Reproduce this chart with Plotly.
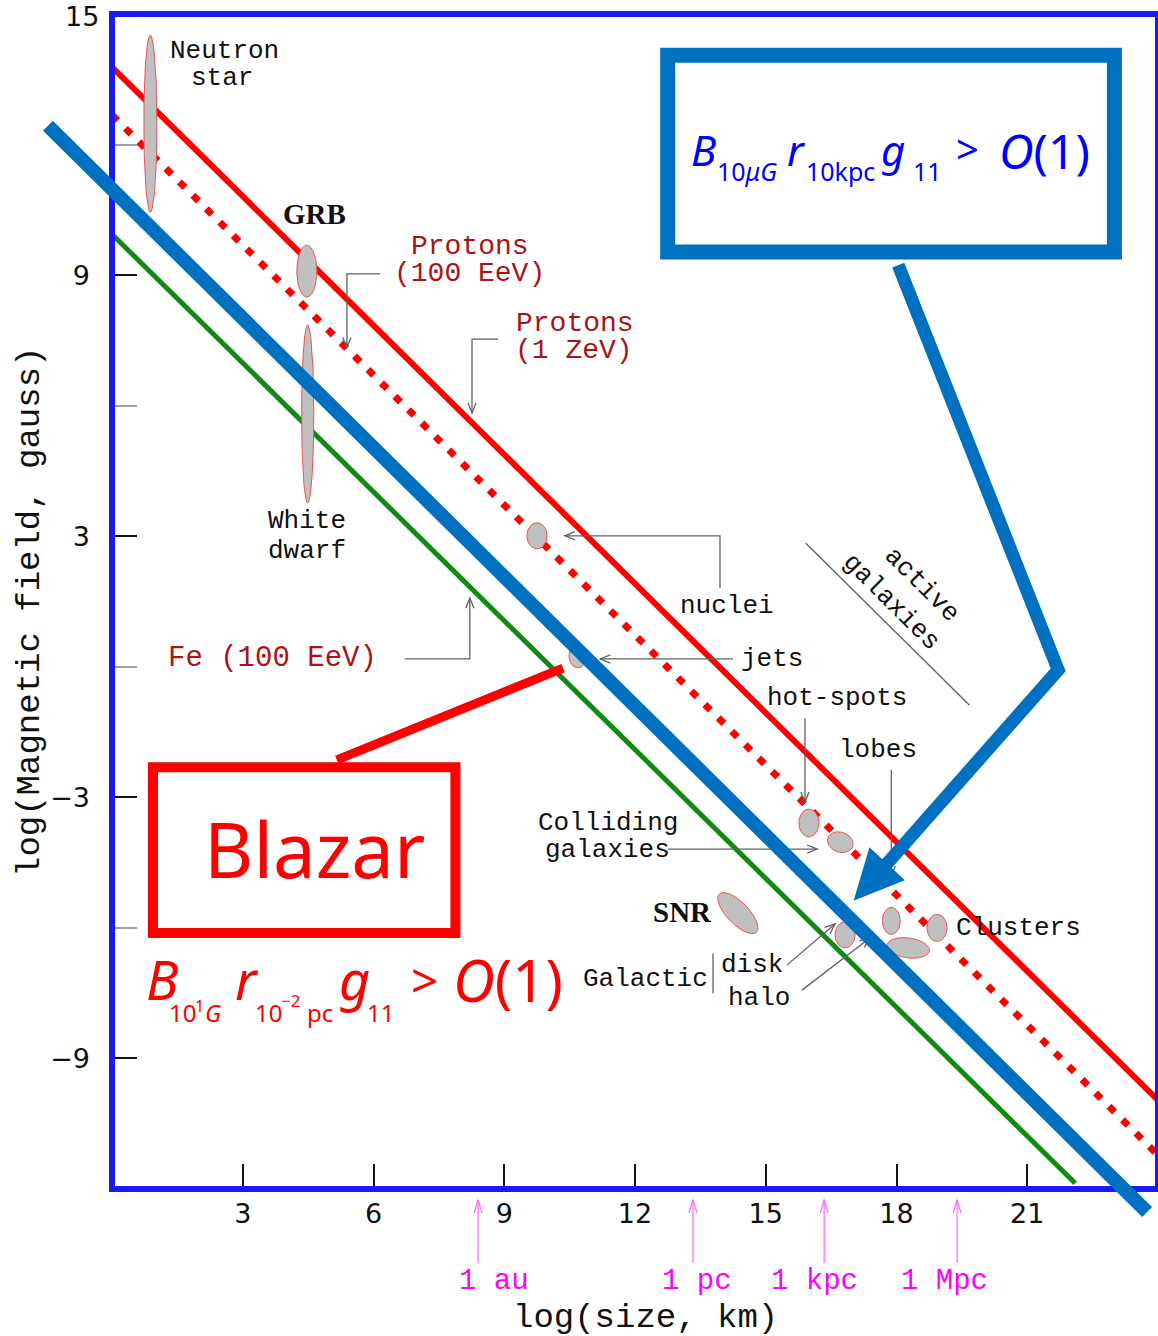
import numpy as np
import plotly.graph_objects as go

# ---------------- figure geometry ----------------
W, H = 1158, 1336
ML, MR, MT, MB = 112, 0, 14, 147
X_RANGE = [0, 24]
Y_RANGE = [-12, 15]
PW = W - ML - MR
PH = H - MT - MB

# ---------------- data ----------------
# Hillas limit lines: log(size, km) vs log(B, gauss)
line_x = [0, 24]
protons_1zev_y = [13.78, -9.96]       # solid red
protons_100eev_y = [12.68, -11.22]    # dotted red
fe_100eev_x = [0, 22.1]
fe_100eev_y = [9.94, -11.87]          # green

# source regions (ellipses): centre, full width, full height (data units), tilt (deg)
src_names = ["Neutron star", "GRB", "White dwarf", "AGN nuclei", "AGN jets",
             "hot-spots", "lobes", "SNR", "Galactic disk", "Cluster A",
             "Cluster B", "Galactic halo"]
src_x = [0.88, 4.47, 4.49, 9.75, 10.69, 15.99, 16.71, 14.36, 16.82, 17.88, 18.93, 18.27]
src_y = [12.48, 9.09, 5.81, 3.01, 0.25, -3.59, -4.03, -5.66, -6.16, -5.84, -6.00, -6.46]
src_w = [0.30, 0.46, 0.28, 0.46, 0.41, 0.46, 0.60, 1.22, 0.46, 0.41, 0.46, 0.98]
src_h = [4.07, 1.19, 4.09, 0.60, 0.55, 0.64, 0.46, 0.50, 0.60, 0.62, 0.62, 0.46]
src_tilt = [0, 0, 0, 0, 0, 0, -20, -46, 0, 0, 0, -8]

# leader lines (data units) and whether they end with an arrow head
leader_x = [[6.15, 5.39, 5.39], [8.86, 8.26, 8.26], [6.72, 8.21, 8.21],
            [13.95, 13.95, 10.39], [14.25, 11.20], [15.90, 15.90], [17.88, 17.88],
            [12.76, 16.18], [15.49, 16.59], [15.83, 17.39], [13.79, 13.79], [15.92, 19.67]]
leader_y = [[9.03, 9.03, 7.33], [7.53, 7.53, 5.83], [0.18, 0.18, 1.58],
            [1.81, 3.01, 3.01], [0.18, 0.18], [-1.18, -3.11], [-2.37, -4.81],
            [-4.19, -4.19], [-6.85, -5.91], [-7.43, -6.23], [-6.58, -7.50], [2.84, -0.88]]
leader_arrow = [True, True, True, True, True, True, True, True, True, True, False, False]

# reference length scales on the size axis
unit_names = ["1 au", "1 pc", "1 kpc", "1 Mpc"]
unit_logkm = [8.40, 13.33, 16.34, 19.39]
unit_label_x = [7.92, 12.57, 15.08, 18.06]

# axis ticks
x_ticks = [3, 6, 9, 12, 15, 18, 21]
y_ticks = [9, 3, -3, -9]
y_ticktext = ["9", "3", "−3", "−9"]
y_top_label = "15"
y_minor = [12, 6, 0, -6]

# overlay annotations (data units)
blue_band_x = [-1.47, 23.75]
blue_band_y = [12.43, -12.53]
blue_box_x = [12.75, 23.0]
blue_box_y = [14.05, 9.53]
blue_arrow_x = [18.04, 21.71, 17.76]
blue_arrow_y = [9.23, -0.07, -4.55]
blue_head_x = [17.05, 17.39, 18.15]
blue_head_y = [-5.34, -4.19, -4.90]
red_box_x = [0.94, 7.88]
red_box_y = [-2.31, -6.12]
red_link_x = [5.16, 10.35]
red_link_y = [-2.14, -0.03]

# ---------------- helpers ----------------
def sx(x):  # data -> pixel
    return ML + (x - X_RANGE[0]) / (X_RANGE[1] - X_RANGE[0]) * PW

def sy(y):
    return MT + (Y_RANGE[1] - y) / (Y_RANGE[1] - Y_RANGE[0]) * PH

def ix(px):  # pixel -> data
    return X_RANGE[0] + (px - ML) / PW * (X_RANGE[1] - X_RANGE[0])

def iy(py):
    return Y_RANGE[1] - (py - MT) / PH * (Y_RANGE[1] - Y_RANGE[0])

def qx(px):  # pixel -> paper
    return (px - ML) / PW

def qy(py):
    return (H - MB - py) / PH

def dpx(x):
    return qx(sx(x))

def dpy(y):
    return qy(sy(y))

fig = go.Figure()

# limit lines
fig.add_trace(go.Scatter(x=line_x, y=protons_1zev_y, mode="lines",
                         line=dict(color="#FF0000", width=6), hoverinfo="skip"))
fig.add_trace(go.Scatter(x=line_x, y=protons_100eev_y, mode="lines",
                         line=dict(color="#FF0000", width=7, dash="8px,11px"), hoverinfo="skip"))
fig.add_trace(go.Scatter(x=fe_100eev_x, y=fe_100eev_y, mode="lines",
                         line=dict(color="#118A11", width=5), hoverinfo="skip"))

# leader lines
for lx, ly in zip(leader_x, leader_y):
    fig.add_trace(go.Scatter(x=lx, y=ly, mode="lines",
                             line=dict(color="#606060", width=1.3), hoverinfo="skip"))

# source ellipses
t = np.linspace(0, 2 * np.pi, 80)
for cx, cy, w, h, a in zip(src_x, src_y, src_w, src_h, src_tilt):
    th = np.deg2rad(a)
    ex = cx + (w / 2) * np.cos(t) * np.cos(th) - (h / 2) * np.sin(t) * np.sin(th)
    ey = cy + (w / 2) * np.cos(t) * np.sin(th) + (h / 2) * np.sin(t) * np.cos(th)
    fig.add_trace(go.Scatter(x=ex, y=ey, mode="lines", fill="toself",
                             fillcolor="#C0C0C0", line=dict(color="#F05050", width=1),
                             hoverinfo="skip"))

shapes = []
annotations = []

# arrow heads of leader lines (open V) in data coordinates
def vhead_data(x0, y0, x1, y1, length=11, half=22):
    p0 = np.array([sx(x0), sy(y0)])
    p1 = np.array([sx(x1), sy(y1)])
    d = (p1 - p0) / np.linalg.norm(p1 - p0)
    pts = []
    for s in (1, -1):
        r = np.deg2rad(half) * s
        rot = np.array([[np.cos(r), -np.sin(r)], [np.sin(r), np.cos(r)]])
        pts.append(p1 - length * rot.dot(d))
    return pts, p1

for lx, ly, ar in zip(leader_x, leader_y, leader_arrow):
    if not ar:
        continue
    (a, b), tip = vhead_data(lx[-2], ly[-2], lx[-1], ly[-1])
    path = "M{},{} L{},{} L{},{}".format(ix(a[0]), iy(a[1]), ix(tip[0]), iy(tip[1]), ix(b[0]), iy(b[1]))
    shapes.append(dict(type="path", xref="x", yref="y", path=path,
                       line=dict(color="#606060", width=1.3), layer="above"))

# unit arrows below the axis (magenta)
for name, v, lxv in zip(unit_names, unit_logkm, unit_label_x):
    x_px = sx(v)
    head, tail = 1200, 1263
    shapes.append(dict(type="line", xref="paper", yref="paper",
                       x0=qx(x_px), x1=qx(x_px), y0=qy(tail), y1=qy(head),
                       line=dict(color="#FF66FF", width=1.2)))
    shapes.append(dict(type="path", xref="paper", yref="paper",
                       path="M{},{} L{},{} L{},{}".format(qx(x_px - 4), qy(head + 13), qx(x_px), qy(head),
                                                        qx(x_px + 4), qy(head + 13)),
                       line=dict(color="#FF66FF", width=1.2)))
    annotations.append(dict(text=name, xref="x", yref="paper", x=lxv, y=qy(1281),
                            xanchor="left", yanchor="middle", showarrow=False,
                            font=dict(family="Liberation Mono", size=29, color="#FF00FF")))

# frame
shapes.append(dict(type="rect", xref="paper", yref="paper", x0=0, x1=1, y0=0, y1=1,
                   line=dict(color="#1A1AF5", width=6), layer="above"))

# ---- blue overlay ----
BLUE = "#0070C0"
shapes.append(dict(type="line", xref="paper", yref="paper",
                   x0=dpx(blue_band_x[0]), y0=dpy(blue_band_y[0]),
                   x1=dpx(blue_band_x[1]), y1=dpy(blue_band_y[1]),
                   line=dict(color=BLUE, width=14), layer="above"))
shapes.append(dict(type="rect", xref="paper", yref="paper",
                   x0=dpx(blue_box_x[0]), x1=dpx(blue_box_x[1]),
                   y0=dpy(blue_box_y[0]), y1=dpy(blue_box_y[1]),
                   line=dict(color=BLUE, width=15), fillcolor="white", layer="above"))
path = "M" + " L".join("{},{}".format(dpx(a), dpy(b)) for a, b in zip(blue_arrow_x, blue_arrow_y))
shapes.append(dict(type="path", xref="paper", yref="paper", path=path,
                   line=dict(color=BLUE, width=13), layer="above"))
path = "M" + " L".join("{},{}".format(dpx(a), dpy(b)) for a, b in zip(blue_head_x, blue_head_y)) + " Z"
shapes.append(dict(type="path", xref="paper", yref="paper", path=path,
                   line=dict(color=BLUE, width=2), fillcolor=BLUE, layer="above"))

# ---- red overlay ----
shapes.append(dict(type="rect", xref="paper", yref="paper",
                   x0=dpx(red_box_x[0]), x1=dpx(red_box_x[1]),
                   y0=dpy(red_box_y[0]), y1=dpy(red_box_y[1]),
                   line=dict(color="#FF0000", width=10), layer="above"))
shapes.append(dict(type="line", xref="paper", yref="paper",
                   x0=dpx(red_link_x[0]), y0=dpy(red_link_y[0]),
                   x1=dpx(red_link_x[1]), y1=dpy(red_link_y[1]),
                   line=dict(color="#FF0000", width=9), layer="above"))

# ---- labels ----
MONO = "Liberation Mono"
BLK = "#111111"
DRED = "#A81414"
labels = [
    ("Neutron", 224.5, 51, 26, BLK, MONO, 0),
    ("star", 222, 78, 26, BLK, MONO, 0),
    ("<b>GRB</b>", 314, 214, 29, BLK, "Liberation Serif", 0),
    ("Protons", 470, 246, 28, DRED, MONO, 0),
    ("(100 EeV)", 469, 273, 28, DRED, MONO, 0),
    ("Protons", 575, 323, 28, DRED, MONO, 0),
    ("(1 ZeV)", 574, 350, 28, DRED, MONO, 0),
    ("White", 307, 521, 26, BLK, MONO, 0),
    ("dwarf", 307, 551, 26, BLK, MONO, 0),
    ("Fe (100 EeV)", 272, 658, 29, DRED, MONO, 0),
    ("nuclei", 727, 606, 26, BLK, MONO, 0),
    ("jets", 772, 659, 26, BLK, MONO, 0),
    ("hot-spots", 837, 698, 26, BLK, MONO, 0),
    ("lobes", 878, 750, 26, BLK, MONO, 0),
    ("Colliding", 608, 823, 26, BLK, MONO, 0),
    ("galaxies", 607, 850, 26, BLK, MONO, 0),
    ("<b>SNR</b>", 682, 912, 29, BLK, "Liberation Serif", 0),
    ("Galactic", 645, 979, 26, BLK, MONO, 0),
    ("disk", 752, 965, 26, BLK, MONO, 0),
    ("halo", 759, 998, 26, BLK, MONO, 0),
    ("Clusters", 1018, 928, 26, BLK, MONO, 0),
    ("active", 922, 585, 26, BLK, MONO, 45),
    ("galaxies", 891, 602, 26, BLK, MONO, 45),
]
for txt, px, py, fs, col, fam, ang in labels:
    annotations.append(dict(text=txt, xref="x", yref="y", x=ix(px), y=iy(py),
                            xanchor="center", yanchor="middle", showarrow=False,
                            textangle=ang, font=dict(family=fam, size=fs, color=col)))

# top y tick label (sits on the frame)
annotations.append(dict(text=y_top_label, xref="paper", yref="y", x=qx(101), y=Y_RANGE[1] - 0.06,
                        xanchor="right", yanchor="middle", showarrow=False,
                        font=dict(family="DejaVu Sans", size=27, color="#111")))

# axis titles
annotations.append(dict(text="log(size, km)", xref="paper", yref="paper", x=qx(645), y=qy(1318),
                        xanchor="center", yanchor="middle", showarrow=False,
                        font=dict(family=MONO, size=34, color=BLK)))
annotations.append(dict(text="log(Magnetic field, gauss)", xref="paper", yref="paper",
                        x=qx(30), y=qy(612), xanchor="center", yanchor="middle",
                        showarrow=False, textangle=-90,
                        font=dict(family=MONO, size=34, color=BLK)))

# Blazar label
annotations.append(dict(text="Blazar", xref="paper", yref="paper", x=qx(314), y=qy(848),
                        xanchor="center", yanchor="middle", showarrow=False,
                        font=dict(family="Noto Sans", size=76, color="#FF0000")))

# formulas, token by token (left px, baseline px, font size)
SANS = "Noto Sans"
def token(txt, left, base, fs, col):
    annotations.append(dict(text=txt, xref="paper", yref="paper", x=qx(left),
                            y=qy(base - 0.388 * fs), xanchor="left", yanchor="middle",
                            showarrow=False, borderpad=0,
                            font=dict(family=SANS, size=fs, color=col)))

BL = "#0000FF"
for txt, l, b, fs in [("<i>B</i>", 690, 166, 42), ("10<i>μG</i>", 716, 181, 25),
                      ("<i>r</i>", 786, 166, 42), ("10kpc", 805, 181, 25),
                      ("<i>g</i>", 880, 166, 42), ("11", 912, 181, 25),
                      ("&gt;", 955, 164, 40), ("<i>O</i>(1)", 998, 169, 48)]:
    token(txt, l, b, fs, BL)

RD = "#FF0000"
for txt, l, b, fs in [("<i>B</i>", 145, 1000, 54), ("10", 168, 1022, 24), ("1", 194, 1012, 16),
                      ("<i>G</i>", 204, 1022, 24), ("<i>r</i>", 234, 1000, 54),
                      ("10", 254, 1022, 24), ("−2", 280, 1007, 17), ("pc", 306, 1022, 24),
                      ("<i>g</i>", 338, 1000, 54), ("11", 366, 1022, 24),
                      ("&gt;", 410, 998, 48), ("<i>O</i>(1)", 452, 1002, 58)]:
    token(txt, l, b, fs, RD)

fig.update_layout(
    width=W, height=H, autosize=False,
    margin=dict(l=ML, r=MR, t=MT, b=MB, pad=0),
    paper_bgcolor="white", plot_bgcolor="white",
    showlegend=False,
    shapes=shapes, annotations=annotations,
    xaxis=dict(range=X_RANGE, tickvals=x_ticks, ticks="inside", ticklen=25, tickwidth=2,
               tickcolor="#111", showgrid=False, zeroline=False, showline=False,
               tickfont=dict(family="DejaVu Sans", size=27, color="#111"),
               automargin=False, fixedrange=True, ticklabelstandoff=6),
    yaxis=dict(range=Y_RANGE, tickvals=y_ticks, ticktext=y_ticktext,
               ticks="inside", ticklen=25, tickwidth=2, tickcolor="#111", showgrid=False,
               zeroline=False, showline=False,
               tickfont=dict(family="DejaVu Sans", size=27, color="#111"),
               minor=dict(tickvals=y_minor, ticks="inside", ticklen=25, tickwidth=1.5,
                          tickcolor="#A0A0A0", showgrid=False),
               automargin=False, fixedrange=True, ticklabelstandoff=21),
)

fig.write_html("out.html")
